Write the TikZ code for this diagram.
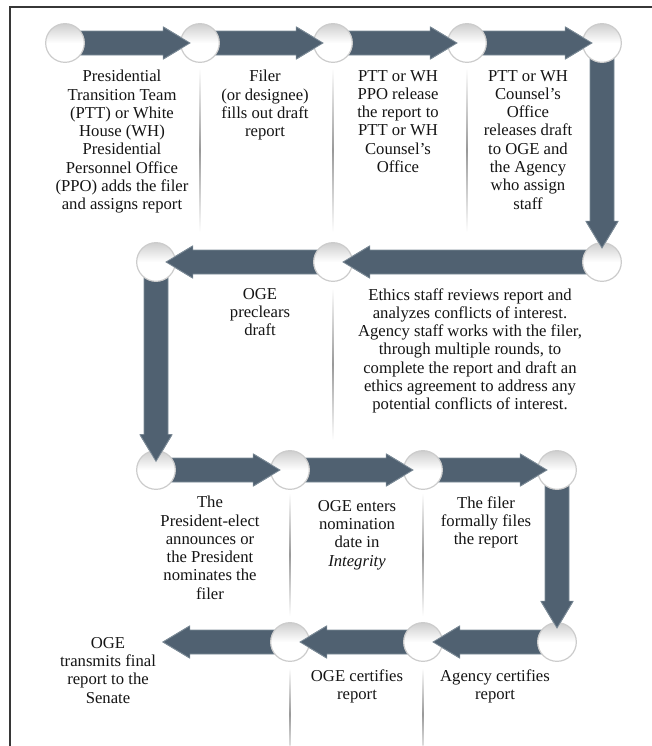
\documentclass[tikz,border=0pt]{standalone}
\usepackage{fontspec}
\setmainfont{Liberation Serif}
\usetikzlibrary{calc}
\pgfdeclarelayer{bottom}
\pgfdeclarelayer{background}
\pgfdeclarelayer{foreground}
\pgfsetlayers{bottom,background,main,foreground}
\definecolor{arrowfill}{RGB}{80,97,113}
\definecolor{arrowedge}{RGB}{125,140,152}
\definecolor{framecol}{RGB}{55,55,55}
\tikzset{
  stepcirc/.style={circle, minimum size=29pt, inner sep=0pt, draw=gray!40, line width=0.9pt,
    top color=gray!38, bottom color=white, middle color=white},
  lbl/.style={align=center, inner sep=0pt, anchor=north, text=black!92,
    font=\fontsize{12.5}{13.7}\selectfont},
  sepline/.style={top color=white, bottom color=white, middle color=gray!80}
}
\newcommand\flowarrow[3][7.5pt]{%
  \coordinate (faT) at ($(#3.center)!#1!(#2.center)$);
  \coordinate (faH) at ($(faT)!20pt!(#2.center)$);
  \begin{pgfonlayer}{background}
    \filldraw[fill=arrowfill, draw=arrowedge, line width=0.6pt, line join=miter]
      ($(#2.center)!9pt!90:(#3.center)$) -- ($(faH)!9pt!90:(#3.center)$) --
      ($(faH)!12pt!90:(#3.center)$) -- (faT) -- ($(faH)!12pt!-90:(#3.center)$) --
      ($(faH)!9pt!-90:(#3.center)$) -- ($(#2.center)!9pt!-90:(#3.center)$) -- cycle;
  \end{pgfonlayer}
  \begin{pgfonlayer}{foreground}
    \fill[arrowfill] ($(faH)!12pt!90:(#3.center)$) -- (faT) -- ($(faH)!12pt!-90:(#3.center)$) -- cycle;
    \draw[arrowedge, line width=0.6pt] ($(faH)!12pt!90:(#3.center)$) -- (faT) -- ($(faH)!12pt!-90:(#3.center)$);
  \end{pgfonlayer}}
\begin{document}
\begin{tikzpicture}[x=0.75pt,y=-0.75pt]
\useasboundingbox (0,0) rectangle (652,746);
\begin{pgfonlayer}{bottom}
\fill[white] (0,0) rectangle (652,746);
\end{pgfonlayer}
\draw[framecol, line width=1.4pt] (10,746) -- (10,7) -- (652,7);

% separator lines
\shade[sepline] (199.3,68) rectangle (200.7,232);
\shade[sepline] (332.3,68) rectangle (333.7,232);
\shade[sepline] (466.3,68) rectangle (467.7,232);
\shade[sepline] (332.3,288) rectangle (333.7,440);
\shade[sepline] (289.3,493) rectangle (290.7,616);
\shade[sepline] (422.3,493) rectangle (423.7,616);
\shade[sepline] (289.3,668) rectangle (290.7,760);
\shade[sepline] (422.3,668) rectangle (423.7,760);

% circles
\node[stepcirc] (c1) at (65,43) {};
\node[stepcirc] (c2) at (200,43) {};
\node[stepcirc] (c3) at (333,43) {};
\node[stepcirc] (c4) at (467,43) {};
\node[stepcirc] (c5) at (602,43) {};
\node[stepcirc] (c6) at (602,262) {};
\node[stepcirc] (c7) at (333,262) {};
\node[stepcirc] (c8) at (156,262) {};
\node[stepcirc] (c9) at (156,470) {};
\node[stepcirc] (c10) at (290,470) {};
\node[stepcirc] (c11) at (423,470) {};
\node[stepcirc] (c12) at (557,470) {};
\node[stepcirc] (c13) at (557,642) {};
\node[stepcirc] (c14) at (423,642) {};
\node[stepcirc] (c15) at (290,642) {};
\coordinate (fin) at (163,642);

% arrows
\flowarrow{c1}{c2}
\flowarrow{c2}{c3}
\flowarrow{c3}{c4}
\flowarrow{c4}{c5}
\flowarrow[10.5pt]{c5}{c6}
\flowarrow{c6}{c7}
\flowarrow{c7}{c8}
\flowarrow[6.5pt]{c8}{c9}
\flowarrow{c9}{c10}
\flowarrow{c10}{c11}
\flowarrow{c11}{c12}
\flowarrow[10.5pt]{c12}{c13}
\flowarrow{c13}{c14}
\flowarrow{c14}{c15}
\flowarrow[0pt]{c15}{fin}

% labels
\node[lbl] (t1) at (122,70) {Presidential\\Transition Team\\(PTT) or White\\House (WH)\\Presidential\\Personnel Office\\(PPO) adds the filer\\and assigns report};
\node[lbl] (t2) at (265,70) {Filer\\(or designee)\\fills out draft\\report};
\node[lbl] (t3) at (398,70) {PTT or WH\\PPO release\\the report to\\PTT or WH\\Counsel's\\Office};
\node[lbl] (t4) at (528,70) {PTT or WH\\Counsel's\\Office\\releases draft\\to OGE and\\the Agency\\who assign\\staff};
\node[lbl] (t5) at (470,288) {Ethics staff reviews report and\\analyzes conflicts of interest.\\Agency staff works with the filer,\\through multiple rounds, to\\complete the report and draft an\\ethics agreement to address any\\potential conflicts of interest.};
\node[lbl] (t6) at (260,288) {OGE\\preclears\\draft};
\node[lbl] (t7) at (210,496) {The\\President-elect\\announces or\\the President\\nominates the\\filer};
\node[lbl] (t8) at (357,500) {OGE enters\\nomination\\date in\\\textit{Integrity}};
\node[lbl] (t9) at (486,496) {The filer\\formally files\\the report};
\node[lbl] (t10) at (495,669) {Agency certifies\\report};
\node[lbl] (t11) at (357,669) {OGE certifies\\report};
\node[lbl] (t12) at (108,637) {OGE\\transmits final\\report to the\\Senate};
\end{tikzpicture}
\end{document}
